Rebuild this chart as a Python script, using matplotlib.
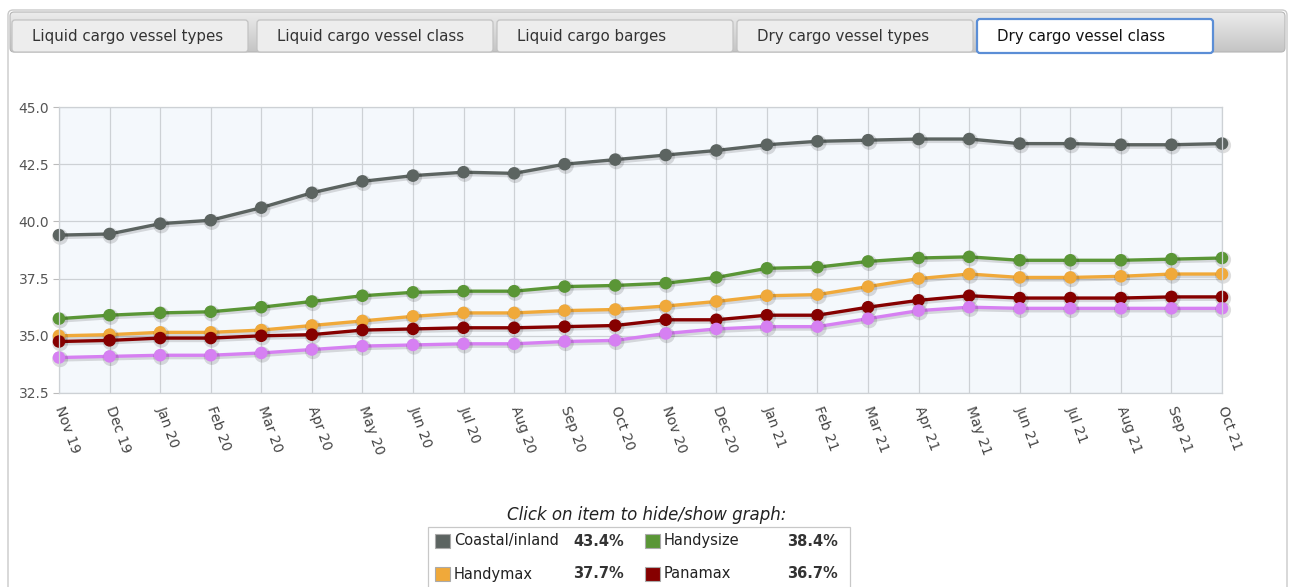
import matplotlib
matplotlib.use("Agg")
import matplotlib.pyplot as plt
import matplotlib.patheffects as pe
from matplotlib.patches import FancyBboxPatch, Rectangle
import numpy as np

# --- data ---------------------------------------------------------------
months = ["Nov 19", "Dec 19", "Jan 20", "Feb 20", "Mar 20", "Apr 20", "May 20", "Jun 20",
          "Jul 20", "Aug 20", "Sep 20", "Oct 20", "Nov 20", "Dec 20", "Jan 21", "Feb 21",
          "Mar 21", "Apr 21", "May 21", "Jun 21", "Jul 21", "Aug 21", "Sep 21", "Oct 21"]

coastal = [39.4, 39.45, 39.9, 40.05, 40.6, 41.25, 41.75, 42.0, 42.15, 42.1, 42.5, 42.7,
           42.9, 43.1, 43.35, 43.5, 43.55, 43.6, 43.6, 43.4, 43.4, 43.35, 43.35, 43.4]
handysize = [35.75, 35.9, 36.0, 36.05, 36.25, 36.5, 36.75, 36.9, 36.95, 36.95, 37.15, 37.2,
             37.3, 37.55, 37.95, 38.0, 38.25, 38.4, 38.45, 38.3, 38.3, 38.3, 38.35, 38.4]
handymax = [35.0, 35.05, 35.15, 35.15, 35.25, 35.45, 35.65, 35.85, 36.0, 36.0, 36.1, 36.15,
            36.3, 36.5, 36.75, 36.8, 37.15, 37.5, 37.7, 37.55, 37.55, 37.6, 37.7, 37.7]
panamax = [34.75, 34.8, 34.9, 34.9, 35.0, 35.05, 35.25, 35.3, 35.35, 35.35, 35.4, 35.45,
           35.7, 35.7, 35.9, 35.9, 36.25, 36.55, 36.75, 36.65, 36.65, 36.65, 36.7, 36.7]
capesize = [34.05, 34.1, 34.15, 34.15, 34.25, 34.4, 34.55, 34.6, 34.65, 34.65, 34.75, 34.8,
            35.1, 35.3, 35.4, 35.4, 35.75, 36.1, 36.25, 36.2, 36.2, 36.2, 36.2, 36.2]

series_names = ["Coastal/inland", "Handysize", "Handymax", "Panamax", "Capesize"]
series_values = [coastal, handysize, handymax, panamax, capesize]
series_colors = ["#5c6461", "#5a9636", "#f0a93a", "#860000", "#d680f2"]

tab_labels = ["Liquid cargo vessel types", "Liquid cargo vessel class", "Liquid cargo barges",
              "Dry cargo vessel types", "Dry cargo vessel class"]
y_ticks = [32.5, 35.0, 37.5, 40.0, 42.5, 45.0]

W, H = 1295, 587
fig = plt.figure(figsize=(W / 100, H / 100), dpi=100, facecolor="white")

# overlay for page chrome (pixel coordinates, y down)
bg = fig.add_axes([0, 0, 1, 1], zorder=0)
bg.set_xlim(0, W)
bg.set_ylim(H, 0)
bg.axis("off")

# outer frame
bg.add_patch(FancyBboxPatch((8, 10), 1279, 640, boxstyle="round,pad=0,rounding_size=5",
                            fc="white", ec="#c9c9c9", lw=1.0))
# tab bar with a vertical gradient
grad = np.linspace(0, 1, 50).reshape(-1, 1)
bar = bg.imshow(grad, cmap=matplotlib.colors.LinearSegmentedColormap.from_list(
    "tabbar", ["#ececec", "#c4c4c4"]), extent=(10, 1285, 52, 12), aspect="auto", zorder=1)
bar_clip = FancyBboxPatch((10, 12), 1275, 40, boxstyle="round,pad=0,rounding_size=4",
                          fc="none", ec="#b5b5b5", lw=0.8, zorder=2)
bg.add_patch(bar_clip)
bar.set_clip_path(bar_clip)

tab_x = [12, 257, 497, 737, 977]
tab_w = 236
for i, (tx, lab) in enumerate(zip(tab_x, tab_labels)):
    selected = i == len(tab_labels) - 1
    if selected:
        bg.add_patch(FancyBboxPatch((tx, 19), tab_w, 34, boxstyle="round,pad=0,rounding_size=3",
                                    fc="white", ec="#5b8ed6", lw=1.6, zorder=3))
    else:
        bg.add_patch(FancyBboxPatch((tx, 20), tab_w, 32, boxstyle="round,pad=0,rounding_size=3",
                                    fc="#ededed", ec="#c2c2c2", lw=0.9, zorder=3))
    bg.text(tx + 20, 37, lab, ha="left", va="center", fontsize=10.8,
            color="#111111" if selected else "#333333", zorder=4)

# --- main chart -----------------------------------------------------------
x0, x1, y0, y1 = 59, 1222, 107, 393
ax = fig.add_axes([x0 / W, 1 - y1 / H, (x1 - x0) / W, (y1 - y0) / H], zorder=2)
ax.set_facecolor("#f4f8fc")
x = np.arange(len(months))

for name, vals, col in zip(series_names, series_values, series_colors):
    ax.plot(x, vals, color=col, lw=2.4, marker="o", ms=8, mec=col, mfc=col,
            clip_on=False, label=name,
            path_effects=[pe.SimpleLineShadow(offset=(0.8, -1.2), shadow_color="black",
                                              alpha=0.13, linewidth=3.5),
                          pe.Normal()])

ax.set_xlim(0, len(months) - 1)
ax.set_ylim(32.5, 45.0)
ax.set_yticks(y_ticks)
ax.set_yticklabels([f"{v:.1f}" for v in y_ticks], fontsize=10, color="#555555")
ax.set_xticks(x)
ax.set_xticklabels(months, fontsize=10, color="#444444", rotation=-70,
                   rotation_mode="anchor", ha="left", va="center")
ax.tick_params(axis="x", length=0, pad=10)
ax.tick_params(axis="y", length=4, color="#bbbbbb", pad=3)
ax.grid(True, color="#cdd1d5", lw=0.9)
ax.set_axisbelow(True)
for s in ax.spines.values():
    s.set_color("#cdd1d5")
    s.set_linewidth(0.9)

# --- legend (table-like); only the rows that fit on the page are visible ------
bg.text(647, 515, "Click on item to hide/show graph:", ha="center", va="center",
        fontsize=12, style="italic", color="#222222")
bg.add_patch(Rectangle((428, 527), 422, 90, fc="white", ec="#c8c8c8", lw=0.9, zorder=2))
cols = [(435, 573, "left"), (645, 838, "right")]
rows = [541, 574]
for i, (name, vals, col) in enumerate(zip(series_names[:4], series_values[:4], series_colors[:4])):
    r, c = divmod(i, 2)
    cx, px, pha = cols[c]
    cy = rows[r]
    bg.add_patch(Rectangle((cx, cy - 7), 15, 14, fc=col, ec="#aaaaaa", lw=0.8, zorder=3))
    bg.text(cx + 19, cy, name, ha="left", va="center", fontsize=10.5, color="#222222", zorder=3)
    bg.text(px, cy, f"{vals[-1]:.1f}%", ha=pha, va="center", fontsize=10.5,
            fontweight="bold", color="#333333", zorder=3)

fig.savefig("out.png", dpi=100, facecolor="white")
